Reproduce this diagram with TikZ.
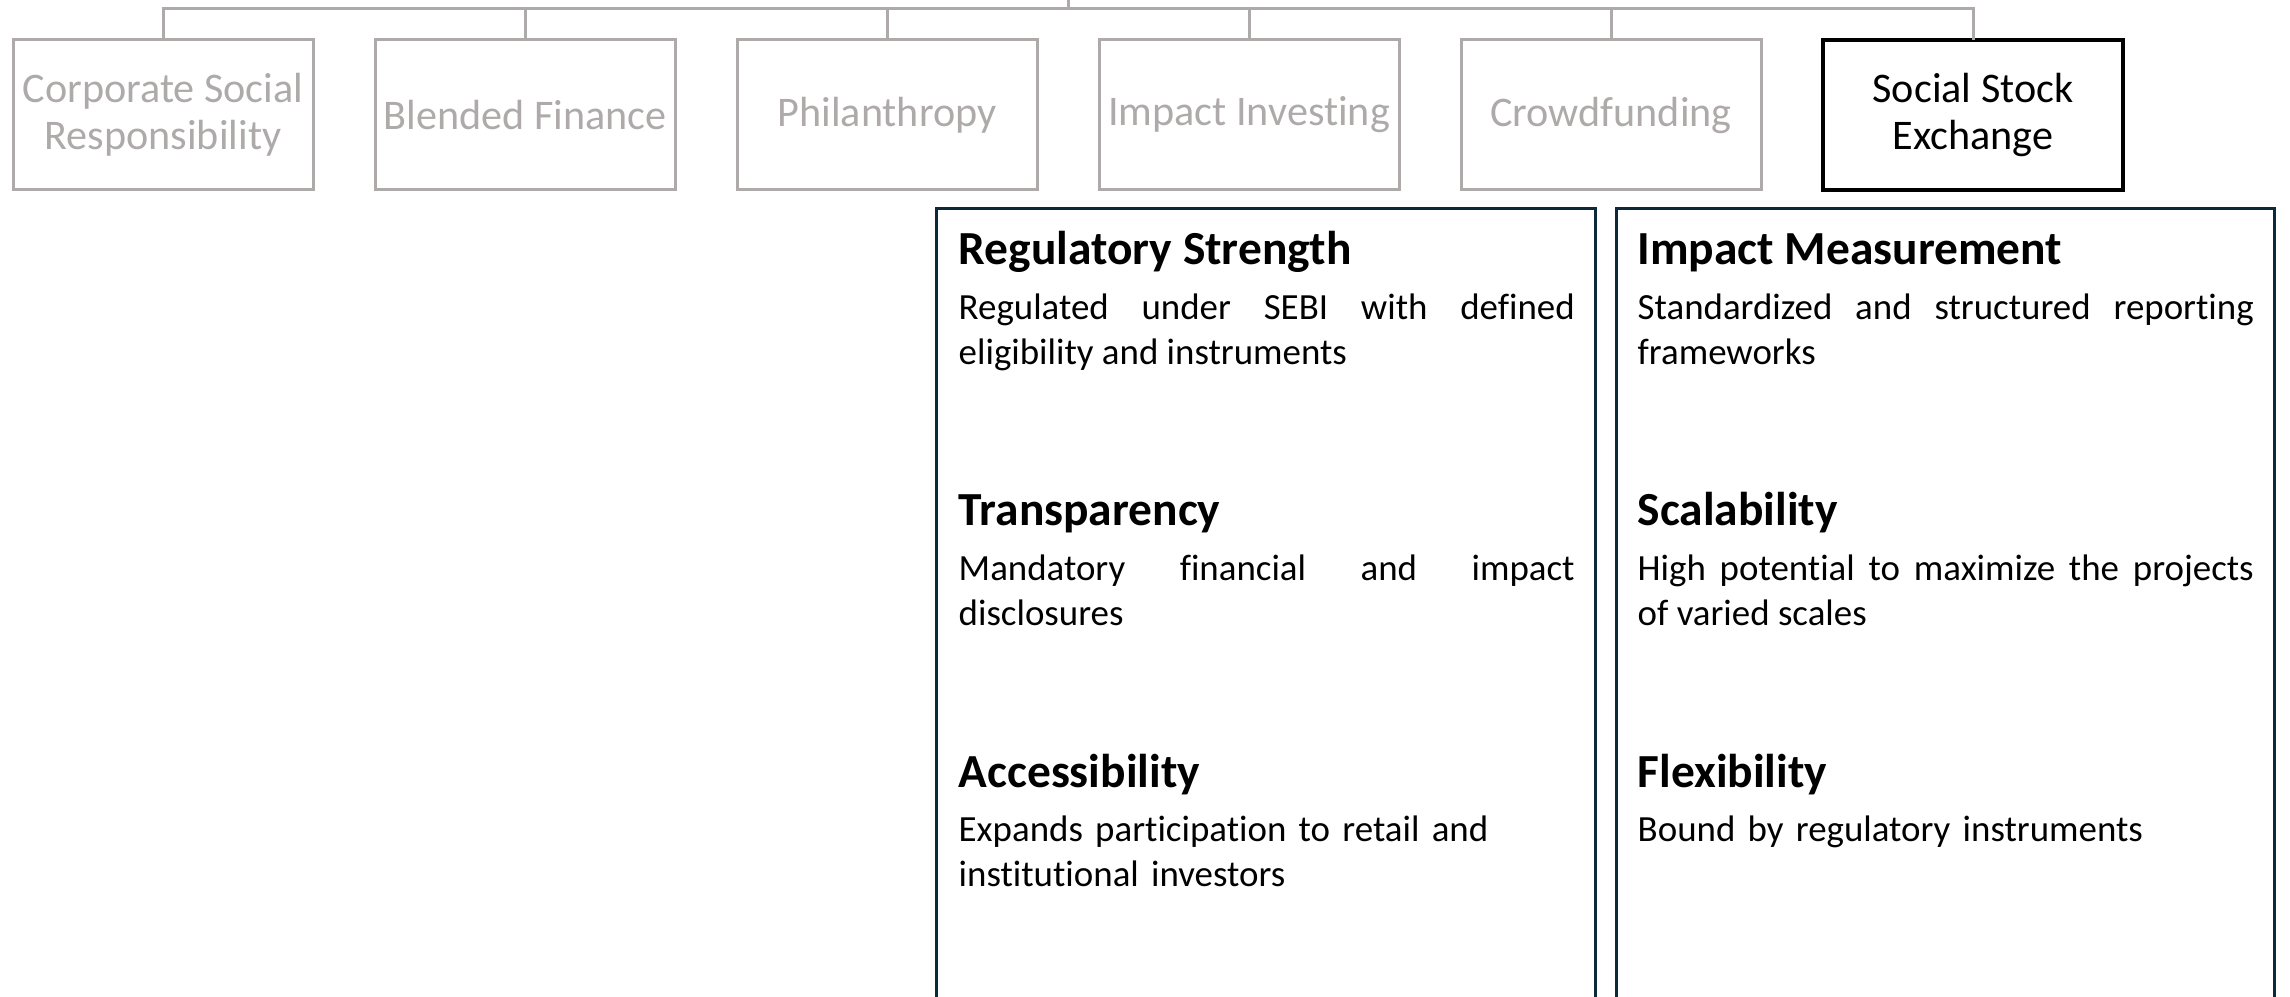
\documentclass[tikz,border=0pt]{standalone}
\usepackage{fontspec}
\setmainfont{Carlito}[Ligatures=NoCommon]
\usetikzlibrary{positioning}
\definecolor{ssgray}{HTML}{AEAAAA}
\definecolor{ssnavy}{HTML}{0D2A3A}
\newcommand{\boxfont}{\fontsize{12}{13.4}\selectfont}
\newcommand{\headfont}{\fontsize{13.5}{16}\selectfont\bfseries}
\newcommand{\bodyfont}{\fontsize{10.5}{12.8}\selectfont}

\begin{document}
\begin{tikzpicture}[
    node distance=0.62cm,
    model/.style={rectangle, draw=ssgray, line width=0.03cm, outer sep=0pt, minimum width=3.0cm, minimum height=1.5cm, inner sep=0pt, font=\boxfont, text=ssgray, align=center},
    chosen/.style={model, draw=black, line width=0.04cm, text=black},
    panel/.style={rectangle, draw=ssnavy, line width=0.03cm, outer sep=0pt, minimum width=6.585cm, minimum height=8.2cm, anchor=north west, inner sep=0pt},
    head/.style={anchor=base west, inner sep=0pt, font=\headfont},
    body/.style={anchor=base west, inner sep=0pt, font=\bodyfont, text width=6.16cm, align=justify},
    link/.style={draw=ssgray, line width=0.03cm}
]
\useasboundingbox (0,0) rectangle (22.9,-9.97);
\clip (0,0) rectangle (22.9,-9.97);

% Financing models
\node[model] (csr) at (1.63,-1.15) {Corporate Social\\Responsibility};
\node[model, right=of csr] (blended) {Blended Finance};
\node[model, right=of blended] (phil) {Philanthropy};
\node[model, right=of phil] (impact) {Impact Investing};
\node[model, right=of impact] (crowd) {Crowdfunding};
\node[chosen, right=of crowd] (sse) {Social Stock\\Exchange};

% Tree links
\coordinate (root) at (10.68,0);
\coordinate (bar) at (10.68,-0.085);
\draw[link] (root) -- (bar);
\foreach \m in {csr,blended,phil,impact,crowd,sse}
    \draw[link] (bar) -| (\m.north);

% Panels
\node[panel] (strengths) at (9.365,-2.09) {};
\node[panel, right=0.21cm of strengths] (limits) {};

% Left panel
\node[head] (regtitle) at ([shift={(0.215,-0.555)}]strengths.north west) {Regulatory Strength};
\node[body] (regtext) at ([shift={(0.215,-1.105)}]strengths.north west) {Regulated under SEBI with defined\linebreak eligibility and instruments};
\node[head] (transtitle) at ([shift={(0.215,-3.17)}]strengths.north west) {Transparency};
\node[body] (transtext) at ([shift={(0.215,-3.72)}]strengths.north west) {Mandatory financial and impact\linebreak disclosures};
\node[head] (accesstitle) at ([shift={(0.215,-5.785)}]strengths.north west) {Accessibility};
\node[body, align=left] (accesstext) at ([shift={(0.215,-6.325)}]strengths.north west) {Expands participation to retail and\\institutional investors};

% Right panel
\node[head] (meastitle) at ([shift={(0.21,-0.555)}]limits.north west) {Impact Measurement};
\node[body] (meastext) at ([shift={(0.21,-1.105)}]limits.north west) {Standardized and structured reporting\linebreak frameworks};
\node[head] (scaletitle) at ([shift={(0.21,-3.17)}]limits.north west) {Scalability};
\node[body] (scaletext) at ([shift={(0.21,-3.72)}]limits.north west) {High potential to maximize the projects\linebreak of varied scales};
\node[head] (flextitle) at ([shift={(0.21,-5.785)}]limits.north west) {Flexibility};
\node[body, align=left] (flextext) at ([shift={(0.21,-6.325)}]limits.north west) {Bound by regulatory instruments};

\end{tikzpicture}
\end{document}
